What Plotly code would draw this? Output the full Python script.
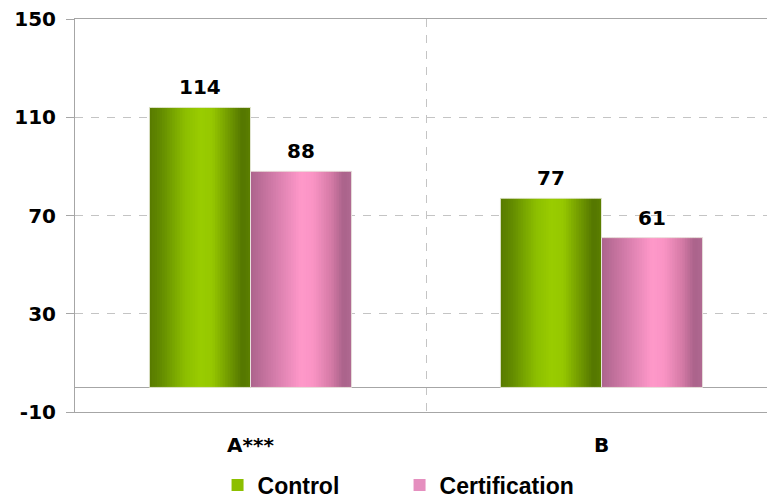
import plotly.graph_objects as go

categories = ["A***", "B"]
control = [114, 77]
certification = [88, 61]
y_ticks = [-10, 30, 70, 110, 150]
y_tick_labels = ["-10", "30", "70", "110", "150"]

# gradient stops (position across bar width, rgb) used to shade each bar
green_stops = [(0.0, (88, 122, 0)), (0.12, (100, 140, 0)), (0.35, (140, 190, 0)),
               (0.5, (153, 204, 0)), (0.62, (150, 200, 0)), (0.8, (110, 150, 0)),
               (0.92, (84, 118, 0)), (1.0, (92, 128, 0))]
pink_stops = [(0.0, (172, 100, 140)), (0.2, (205, 120, 165)), (0.5, (255, 152, 202)),
              (0.62, (250, 148, 196)), (0.8, (212, 122, 166)), (0.92, (170, 98, 138)),
              (1.0, (176, 106, 146))]


def interp(stops, t):
    for (p0, c0), (p1, c1) in zip(stops[:-1], stops[1:]):
        if p0 <= t <= p1:
            f = (t - p0) / (p1 - p0) if p1 > p0 else 0
            c = [round(a + (b - a) * f) for a, b in zip(c0, c1)]
            return "rgb({},{},{})".format(*c)
    return "rgb({},{},{})".format(*stops[-1][1])


bar_w = 0.288
series = [
    ("Control", control, green_stops, "#8cbf00", -bar_w),
    ("Certification", certification, pink_stops, "#e58fbf", 0.0),
]
xpos = list(range(len(categories)))
N = 40

fig = go.Figure()
for name, vals, stops, legcol, off in series:
    # base bar (also the legend entry)
    fig.add_trace(go.Bar(x=xpos, y=vals, name=name, offset=off, width=bar_w,
                         marker=dict(color=legcol, line=dict(width=0)),
                         hoverinfo="skip"))
    sw = bar_w / N
    for k in range(N):
        t = (k + 0.5) / N
        fig.add_trace(go.Bar(x=xpos, y=vals, offset=off + k * sw,
                             width=sw * (1.5 if k < N - 1 else 1.0),
                             marker=dict(color=interp(stops, t), line=dict(width=0)),
                             showlegend=False, hoverinfo="skip"))
    # thin light outline
    fig.add_trace(go.Bar(x=xpos, y=vals, offset=off, width=bar_w,
                         marker=dict(color="rgba(0,0,0,0)",
                                     line=dict(width=1, color="rgba(235,235,225,0.9)")),
                         showlegend=False, hoverinfo="skip"))
    for xi, v in zip(xpos, vals):
        fig.add_annotation(x=xi + off + bar_w / 2, y=v, text=str(v), showarrow=False,
                           yanchor="bottom", yshift=6,
                           font=dict(family="DejaVu Sans", size=20, color="black", weight="bold"))

axis_col = "#a6a6a6"
grid_col = "#c4c4c4"
fig.update_layout(
    width=767, height=499,
    margin=dict(l=75, r=0, t=19, b=87, autoexpand=False),
    plot_bgcolor="white", paper_bgcolor="white",
    barmode="overlay",
    showlegend=True,
    legend=dict(orientation="h", x=0.206, xanchor="left", y=-0.186, yanchor="middle",
                font=dict(family="Liberation Sans", size=23, color="black", weight="bold"),
                entrywidth=137, entrywidthmode="pixels", bgcolor="rgba(0,0,0,0)"),
    xaxis=dict(range=[-0.5, 1.4715], tickmode="array", tickvals=xpos, ticktext=categories,
               showgrid=False, showline=True, mirror=True, linecolor=axis_col, linewidth=1,
               ticks="", zeroline=False, ticklabelstandoff=15,
               tickfont=dict(family="DejaVu Sans", size=20, color="black", weight="bold"),
               minor=dict(tickmode="array", tickvals=[0.5], showgrid=True, gridcolor=grid_col,
                          griddash="8px,8px", gridwidth=1, ticks="")),
    yaxis=dict(range=[-10, 150], tickmode="array", tickvals=y_ticks, ticktext=y_tick_labels,
               showgrid=True, gridcolor=grid_col, griddash="8px,8px", gridwidth=1,
               showline=True, linecolor=axis_col, linewidth=1,
               ticks="outside", ticklen=8, tickcolor=axis_col,
               zeroline=True, zerolinecolor=axis_col, zerolinewidth=1,
               ticklabelstandoff=6,
               tickfont=dict(family="DejaVu Sans", size=20, color="black", weight="bold")),
)

fig.write_html("out.html", config={"displayModeBar": False},
               post_script="document.body.style.margin='0';document.body.style.overflow='hidden';")
